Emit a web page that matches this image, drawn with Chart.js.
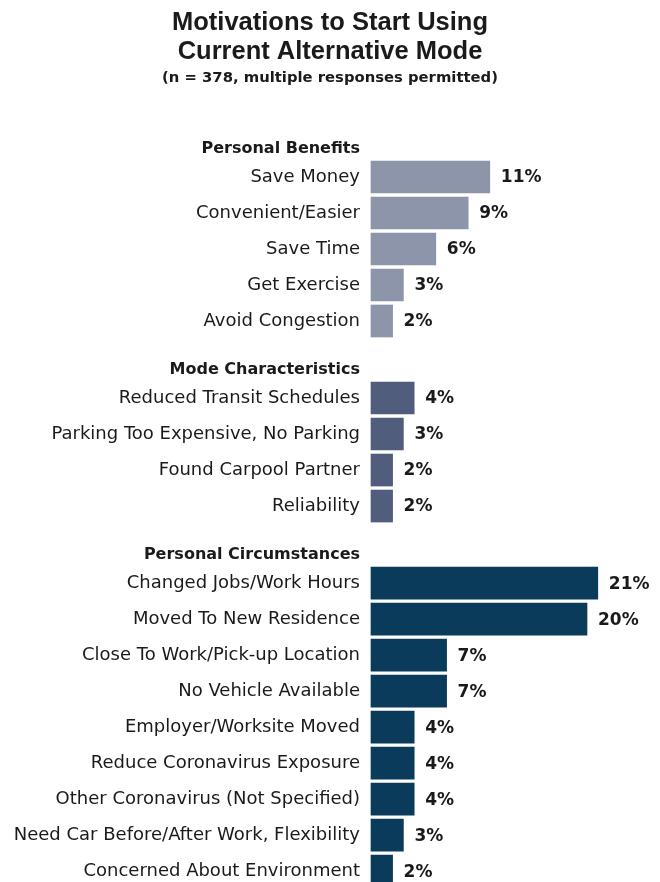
<!DOCTYPE html>
<html>
<head>
<meta charset="utf-8">
<script src="https://cdn.jsdelivr.net/npm/chart.js@4/dist/chart.umd.min.js"></script>
<style>
  html, body { margin: 0; padding: 0; background: #ffffff; }
  #wrap { width: 660px; height: 882px; position: relative; }
</style>
</head>
<body>
<div id="wrap"><canvas id="c"></canvas></div>
<script>
// ---- Data ----
const groupTitles = ['Personal Benefits', 'Mode Characteristics', 'Personal Circumstances'];

const benefitLabels = ['Save Money', 'Convenient/Easier', 'Save Time', 'Get Exercise', 'Avoid Congestion'];
const benefitValues = [11, 9, 6, 3, 2];

const modeLabels = ['Reduced Transit Schedules', 'Parking Too Expensive, No Parking', 'Found Carpool Partner', 'Reliability'];
const modeValues = [4, 3, 2, 2];

const circumstanceLabels = ['Changed Jobs/Work Hours', 'Moved To New Residence', 'Close To Work/Pick-up Location',
  'No Vehicle Available', 'Employer/Worksite Moved', 'Reduce Coronavirus Exposure',
  'Other Coronavirus (Not Specified)', 'Need Car Before/After Work, Flexibility', 'Concerned About Environment'];
const circumstanceValues = [21, 20, 7, 7, 4, 4, 4, 3, 2];

const groupLabels = [benefitLabels, modeLabels, circumstanceLabels];
const groupValues = [benefitValues, modeValues, circumstanceValues];
const groupColors = ['#8d95aa', '#505d7c', '#0a3b5b'];

// ---- Layout of rows (in row units) ----
const GROUP_GAP = 2.14;      // distance from last row of a group to first row of next
const HEADER_OFFSET = 0.79;  // header sits this far above the group's first row

const tickPositions = [];
const tickTexts = [];
const tickIsHeader = [];
const datasets = [];
let pos = 0;
groupLabels.forEach((labels, g) => {
  tickPositions.push(pos - HEADER_OFFSET);
  tickTexts.push(groupTitles[g]);
  tickIsHeader.push(true);
  const data = [];
  labels.forEach((lab, i) => {
    tickPositions.push(pos);
    tickTexts.push(lab);
    tickIsHeader.push(false);
    data.push({ x: groupValues[g][i], y: pos });
    if (i < labels.length - 1) pos += 1;
  });
  datasets.push({
    label: groupTitles[g],
    data: data,
    backgroundColor: groupColors[g],
    borderWidth: 0,
    barThickness: 32,
    grouped: false,
    clip: false
  });
  pos += GROUP_GAP;
});

const TITLE_FONT = "'Liberation Sans', Arial, sans-serif";
const FONT = "'DejaVu Sans', sans-serif";
const TEXT = '#1a1a1a';

const UNIT_PX = 36;        // pixels per row
const FIRST_ROW_PX = 177;  // pixel centre of the first row

// make the row scale exactly UNIT_PX per row, whatever the chart area turns out to be
const fitRows = {
  id: 'fitRows',
  afterLayout(chart) {
    const s = chart.scales.y;
    s.min = -(FIRST_ROW_PX - s.top) / UNIT_PX;
    s.max = (s.bottom - FIRST_ROW_PX) / UNIT_PX;
    s.configure();
  }
};

const valueLabels = {
  id: 'valueLabels',
  afterDatasetsDraw(chart) {
    const ctx = chart.ctx;
    ctx.save();
    ctx.font = 'bold 17px ' + FONT;
    ctx.fillStyle = TEXT;
    ctx.textBaseline = 'middle';
    ctx.textAlign = 'left';
    chart.data.datasets.forEach((ds, di) => {
      const meta = chart.getDatasetMeta(di);
      meta.data.forEach((el, i) => {
        ctx.fillText(ds.data[i].x + '%', el.x + 11, el.y + 1);
      });
    });
    ctx.restore();
  }
};

new Chart(document.getElementById('c'), {
  type: 'bar',
  data: { datasets: datasets },
  options: {
    indexAxis: 'y',
    responsive: true,
    maintainAspectRatio: false,
    animation: false,
    layout: { padding: { top: 8, left: 0, right: 0, bottom: 0 } },
    plugins: {
      legend: { display: false },
      tooltip: { enabled: false },
      title: {
        display: true,
        text: ['Motivations to Start Using', 'Current Alternative Mode'],
        color: TEXT,
        font: { family: TITLE_FONT, size: 25.5, weight: 'bold', lineHeight: 1.12 },
        padding: { top: 1, bottom: 3 }
      },
      subtitle: {
        display: true,
        text: '(n = 378, multiple responses permitted)',
        color: TEXT,
        font: { family: FONT, size: 14.8, weight: 'bold', lineHeight: 1.2 },
        padding: { top: 0, bottom: 14 }
      }
    },
    scales: {
      x: {
        type: 'linear',
        display: false,
        min: 0,
        max: 289 / 10.8
      },
      y: {
        type: 'linear',
        reverse: true,
        offset: false,
        min: -2,
        max: 19.6,
        grid: { display: false, drawTicks: false },
        border: { display: false },
        afterBuildTicks(scale) {
          scale.ticks = tickPositions.map(v => ({ value: v }));
        },
        afterFit(scale) {
          scale.width = 371;
        },
        ticks: {
          autoSkip: false,
          padding: 11,
          color: TEXT,
          callback: (value, index) => tickTexts[index],
          font: (ctx) => {
            const i = ctx.index;
            return tickIsHeader[i]
              ? { family: FONT, size: 16, weight: 'bold' }
              : { family: FONT, size: 18, weight: 'normal' };
          }
        }
      }
    }
  },
  plugins: [fitRows, valueLabels]
});
</script>
</body>
</html>
